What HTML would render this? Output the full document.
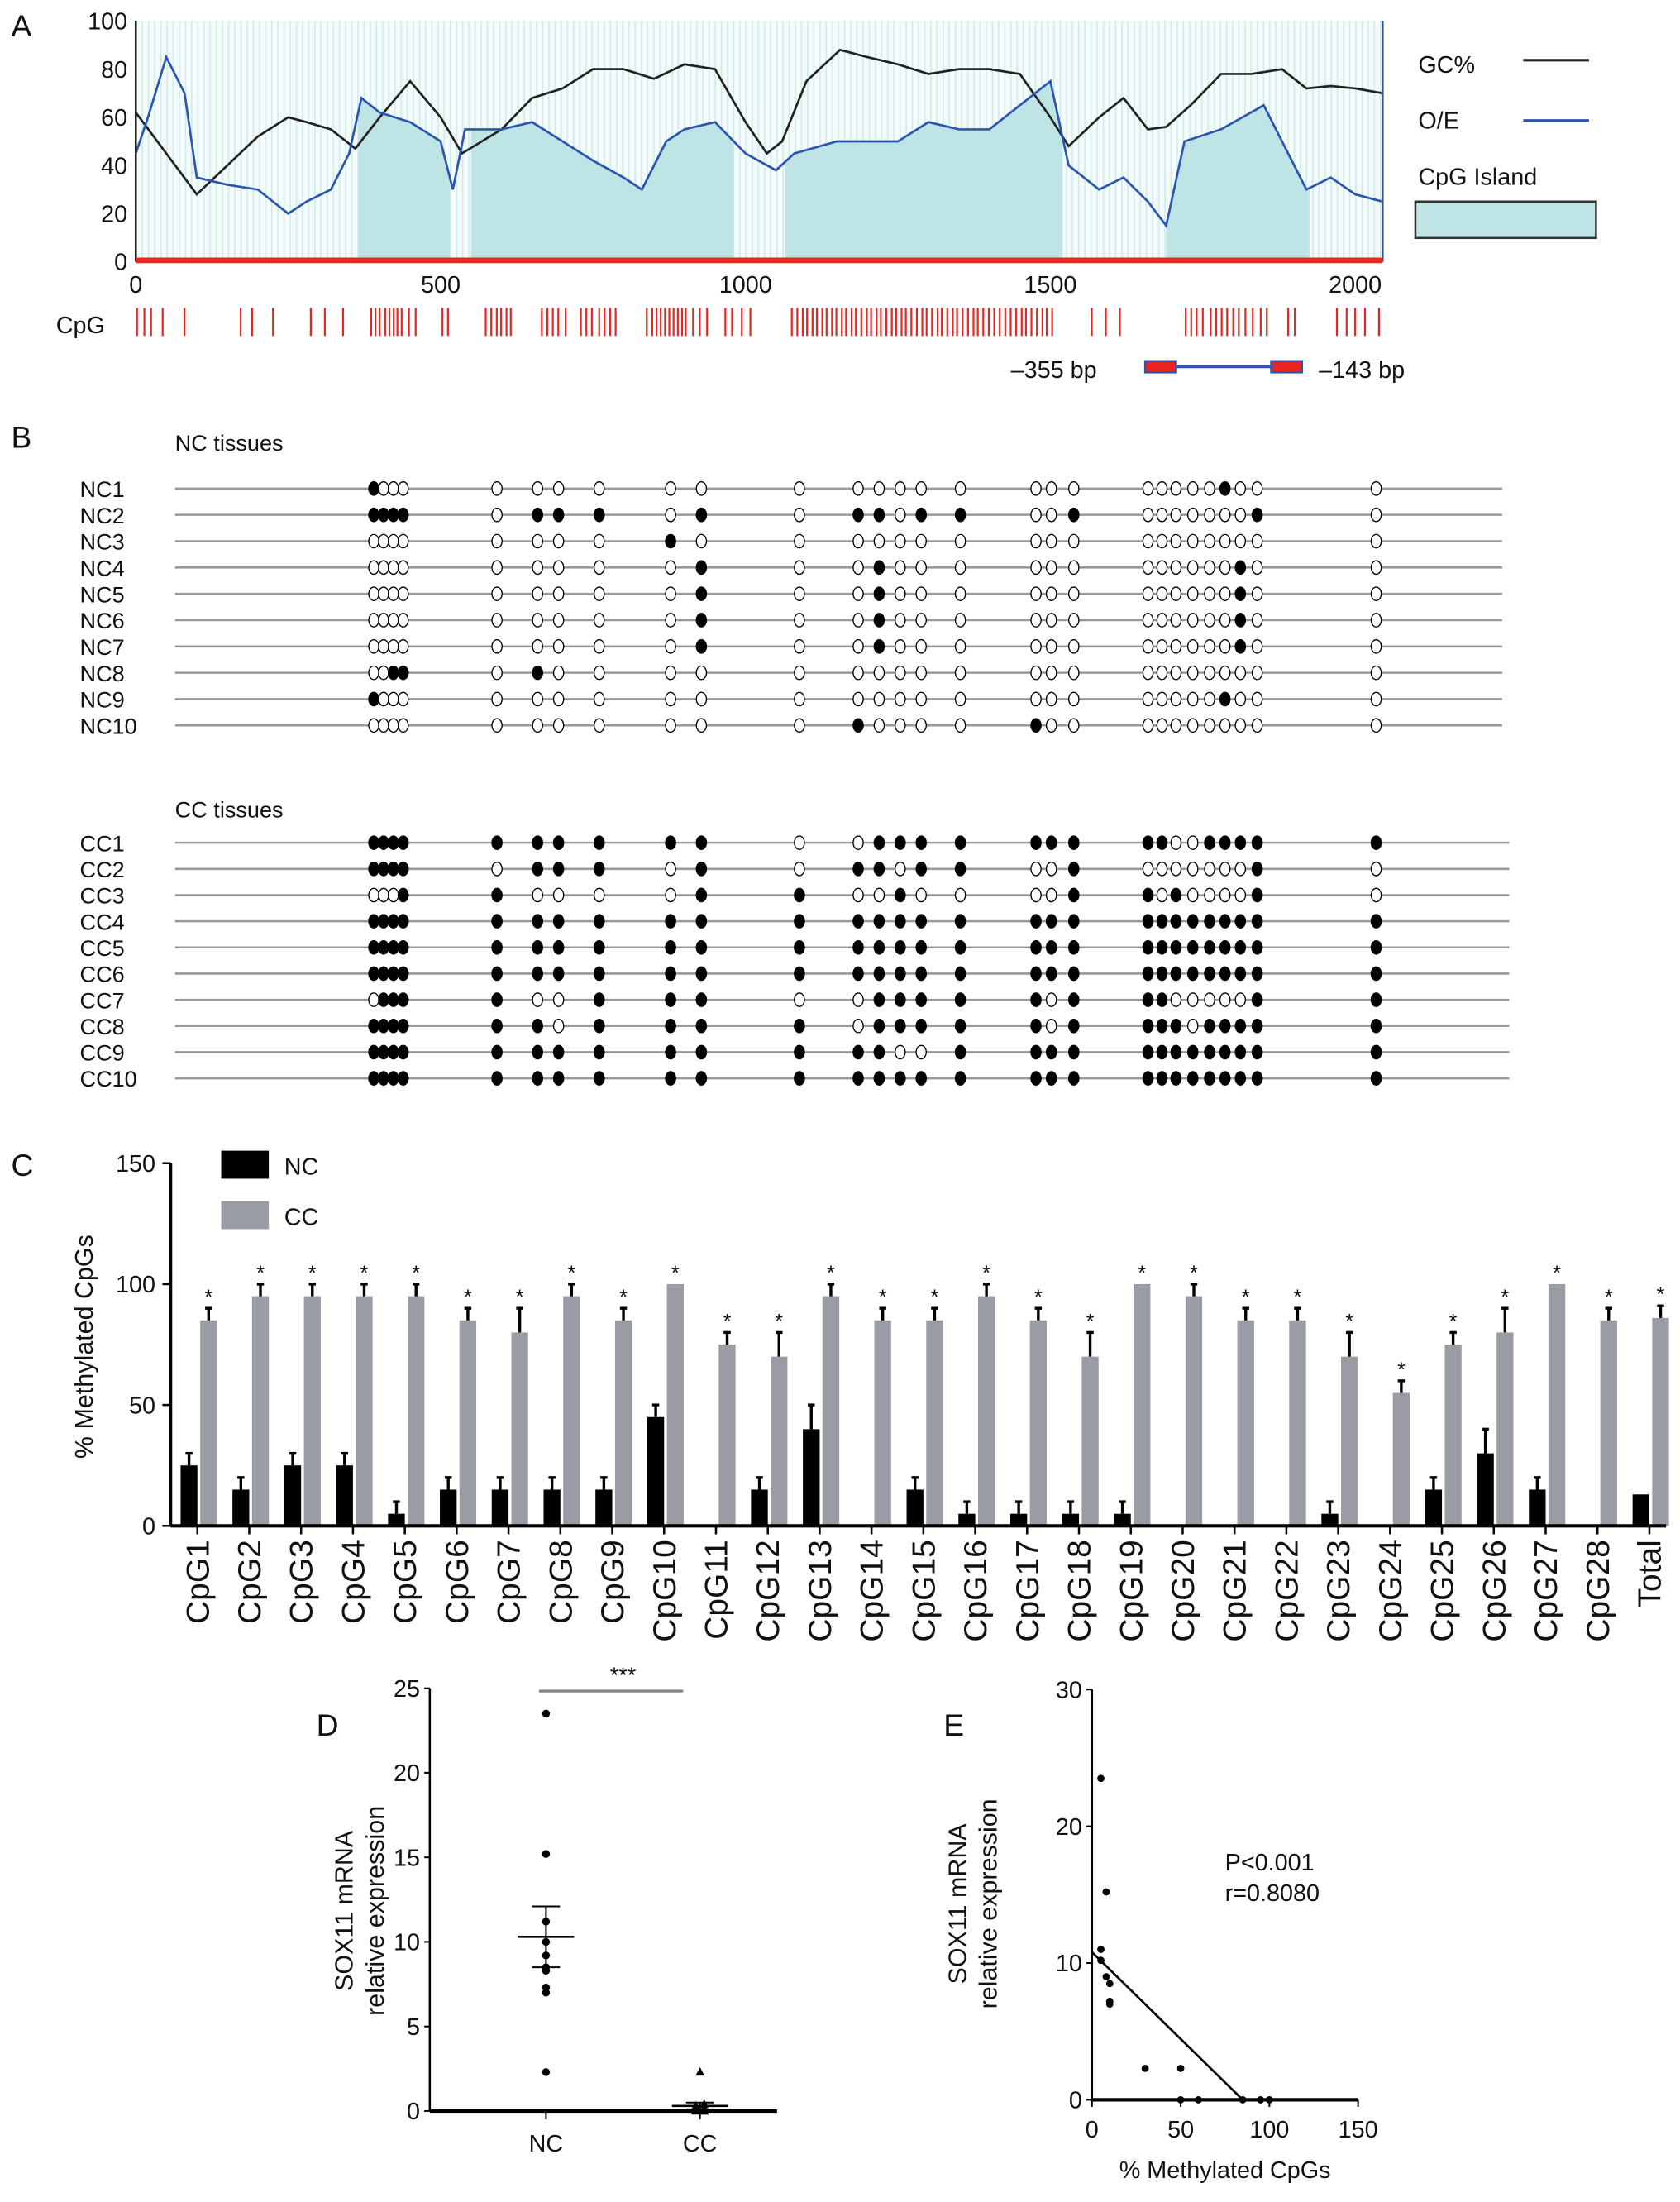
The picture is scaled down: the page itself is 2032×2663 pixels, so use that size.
<!DOCTYPE html>
<html><head><meta charset="utf-8"><style>
html,body{margin:0;padding:0;background:#fff}
svg{display:block}
text{font-family:"Liberation Sans",sans-serif;fill:#111}
</style></head><body>
<svg id="fig" xmlns="http://www.w3.org/2000/svg" width="2032" height="2663" viewBox="0 0 1200 1573" preserveAspectRatio="none">
<defs>
<pattern id="stripes" width="4.4" height="10" patternUnits="userSpaceOnUse">
<rect width="4.4" height="10" fill="#f4fbfa"/><rect width="1" height="10" fill="#cfeceb"/>
</pattern>
</defs>
<g id="pA"></g>
<g id="pB"></g>
<g id="pC"></g>
<g id="pD"></g>
<g id="pE"></g>
</svg>
<script>
// ---------- Panel A data ----------
const gcBp = [0,50,100,150,200,250,280,320,360,400,450,500,535,600,650,700,750,800,850,900,950,1000,1035,1060,1100,1155,1200,1250,1300,1350,1400,1450,1500,1530,1580,1620,1660,1690,1730,1780,1830,1880,1920,1960,2000,2045];
const gcVal = [62,45,28,40,52,60,58,55,47,60,75,60,45,55,68,72,80,80,76,82,80,58,45,50,75,88,85,82,78,80,80,78,60,48,60,68,55,56,65,78,78,80,72,73,72,70];
const oeBp = [0,20,50,80,100,150,200,250,280,320,350,370,400,450,500,520,540,600,650,700,750,800,830,870,900,950,1000,1050,1080,1150,1250,1300,1350,1400,1450,1500,1530,1580,1620,1660,1690,1720,1780,1850,1880,1920,1960,2000,2045];
const oeVal = [45,60,85,70,35,32,30,20,25,30,45,68,62,58,50,30,55,55,58,50,42,35,30,50,55,58,45,38,45,50,50,58,55,55,65,75,40,30,35,25,15,50,55,65,50,30,35,28,25];
const islandStart = [365,550,1065,1690];
const islandEnd = [515,980,1520,1925];
const cpgSites = [2,14,25,44,80,172,191,225,287,310,340,386,393,400,409,416,423,429,436,448,459,503,512,574,583,592,599,608,615,666,675,684,693,705,730,739,748,760,769,778,787,838,847,854,861,868,875,882,889,896,902,914,925,937,967,978,994,1008,1076,1085,1094,1101,1110,1117,1126,1133,1142,1149,1158,1165,1174,1181,1190,1199,1206,1215,1222,1231,1240,1247,1256,1263,1272,1281,1290,1297,1306,1315,1322,1331,1340,1347,1356,1365,1374,1381,1390,1399,1408,1417,1426,1435,1444,1453,1460,1469,1478,1487,1494,1503,1568,1591,1614,1722,1731,1740,1750,1763,1772,1781,1790,1800,1809,1820,1832,1845,1855,1890,1901,1970,1986,2000,2016,2039];
const aXTicks = [0,500,1000,1500,2000];
const aYTicks = [0,20,40,60,80,100];

// ---------- Panel B data ----------
const bSiteCount = 28;
const ncLabels = ["NC1","NC2","NC3","NC4","NC5","NC6","NC7","NC8","NC9","NC10"];
const ncPatterns = [
"1000"+"0"+"00"+"0"+"00"+"0"+"0000"+"0"+"000"+"00000100"+"0",
"1111"+"0"+"11"+"1"+"01"+"0"+"1101"+"1"+"001"+"00000001"+"0",
"0000"+"0"+"00"+"0"+"10"+"0"+"0000"+"0"+"000"+"00000000"+"0",
"0000"+"0"+"00"+"0"+"01"+"0"+"0100"+"0"+"000"+"00000010"+"0",
"0000"+"0"+"00"+"0"+"01"+"0"+"0100"+"0"+"000"+"00000010"+"0",
"0000"+"0"+"00"+"0"+"01"+"0"+"0100"+"0"+"000"+"00000010"+"0",
"0000"+"0"+"00"+"0"+"01"+"0"+"0100"+"0"+"000"+"00000010"+"0",
"0011"+"0"+"10"+"0"+"00"+"0"+"0000"+"0"+"000"+"00000000"+"0",
"1000"+"0"+"00"+"0"+"00"+"0"+"0000"+"0"+"000"+"00000100"+"0",
"0000"+"0"+"00"+"0"+"00"+"0"+"1000"+"0"+"100"+"00000000"+"0"];
const ccLabels = ["CC1","CC2","CC3","CC4","CC5","CC6","CC7","CC8","CC9","CC10"];
const ccPatterns = [
"1111"+"1"+"11"+"1"+"11"+"0"+"0111"+"1"+"111"+"11001111"+"1",
"1111"+"0"+"11"+"1"+"01"+"0"+"1101"+"1"+"001"+"00000001"+"0",
"0001"+"1"+"00"+"0"+"01"+"1"+"0010"+"0"+"001"+"10100001"+"0",
"1111"+"1"+"11"+"1"+"11"+"1"+"1111"+"1"+"111"+"11111111"+"1",
"1111"+"1"+"11"+"1"+"11"+"1"+"1111"+"1"+"111"+"11111111"+"1",
"1111"+"1"+"11"+"1"+"11"+"1"+"1111"+"1"+"111"+"11111111"+"1",
"0111"+"1"+"00"+"1"+"11"+"0"+"0111"+"1"+"101"+"11000001"+"1",
"1111"+"1"+"10"+"1"+"11"+"1"+"0111"+"1"+"101"+"11101111"+"1",
"1111"+"1"+"11"+"1"+"11"+"1"+"1100"+"1"+"111"+"11111111"+"1",
"1111"+"1"+"11"+"1"+"11"+"1"+"1111"+"1"+"111"+"11111111"+"1"];

// ---------- Panel C data ----------
const cCats = ["CpG1","CpG2","CpG3","CpG4","CpG5","CpG6","CpG7","CpG8","CpG9","CpG10","CpG11","CpG12","CpG13","CpG14","CpG15","CpG16","CpG17","CpG18","CpG19","CpG20","CpG21","CpG22","CpG23","CpG24","CpG25","CpG26","CpG27","CpG28","Total"];
const ncMeth = [25,15,25,25,5,15,15,15,15,45,0,15,40,0,15,5,5,5,5,0,0,0,5,0,15,30,15,0,13];
const ncErr  = [5,5,5,5,5,5,5,5,5,5,0,5,10,0,5,5,5,5,5,0,0,0,5,0,5,10,5,0,0];
const ccMeth = [85,95,95,95,95,85,80,95,85,100,75,70,95,85,85,95,85,70,100,95,85,85,70,55,75,80,100,85,86];
const ccErr  = [5,5,5,5,5,5,10,5,5,0,5,10,5,5,5,5,5,10,0,5,5,5,10,5,5,10,0,5,5];
const cYTicks = [0,50,100,150];

// ---------- Panel D data ----------
const dNC = [23.5,15.2,11.2,10.0,9.2,8.5,8.3,7.3,7.0,2.3];
const dCC = [2.3,0.4,0.3,0.2,0.1,0.1,0.05,0.0,0.0,0.0];
const dNCMean = 10.3, dNCSemHi = 12.1, dNCSemLo = 8.5;
const dCCMean = 0.3, dCCSemHi = 0.5, dCCSemLo = 0.1;
const dYTicks = [0,5,10,15,20,25];

// ---------- Panel E data ----------
const eX = [5,8,5,5,8,10,10,10,30,50,50,60,85,95,100];
const eY = [23.5,15.2,11,10.2,9,8.5,7.2,7,2.3,2.3,0,0,0,0,0];
const eFitStart = [0,10.8], eFitEnd = [85,0];
const eXTicks = [0,50,100,150];
const eYTicks = [0,10,20,30];

const NS="http://www.w3.org/2000/svg";
function mk(parent,tag,attrs,txt){const e=document.createElementNS(NS,tag);for(const k in attrs)e.setAttribute(k,attrs[k]);if(txt!==undefined)e.textContent=txt;parent.appendChild(e);return e;}

// ================= Panel A =================
(function(){
const g=document.getElementById('pA');
const ax=bp=>97+bp*0.4355, ay=v=>187-v*1.72;
let t;
t=mk(g,'text',{x:8,y:26,'font-size':22});t.textContent='A';


let bg=mk(g,'rect',{x:ax(0),y:ay(100),width:ax(2045)-ax(0),height:ay(0)-ay(100),fill:'url(#stripes)'});


for(let i=0;i<islandStart.length;i++){
  let pts=[[islandStart[i],0]];
  for(let j=0;j<oeBp.length;j++){
    if(oeBp[j]>islandStart[i]&&oeBp[j]<islandEnd[i]) pts.push([oeBp[j],oeVal[j]]);
  }
  const interp=b=>{for(let j=1;j<oeBp.length;j++){if(oeBp[j]>=b){const f=(b-oeBp[j-1])/(oeBp[j]-oeBp[j-1]);return oeVal[j-1]+f*(oeVal[j]-oeVal[j-1]);}}return oeVal[oeVal.length-1];};
  pts.splice(1,0,[islandStart[i],interp(islandStart[i])]);
  pts.push([islandEnd[i],interp(islandEnd[i])]);
  pts.push([islandEnd[i],0]);
  let p=mk(g,'polygon',{points:pts.map(q=>ax(q[0])+','+ay(q[1])).join(' '),fill:'#bfe4e6'});
  
  
}
let gl=mk(g,'polyline',{points:gcBp.map((b,i)=>ax(b)+','+ay(gcVal[i])).join(' '),fill:'none',stroke:'#222','stroke-width':1.6});


let ol=mk(g,'polyline',{points:oeBp.map((b,i)=>ax(b)+','+ay(oeVal[i])).join(' '),fill:'none',stroke:'#2c55b0','stroke-width':1.6});


let ya=mk(g,'line',{x1:ax(0),y1:ay(100),x2:ax(0),y2:ay(0),stroke:'#222','stroke-width':1.5});


let ra=mk(g,'line',{x1:ax(2045),y1:ay(100),x2:ax(2045),y2:ay(0),stroke:'#2c55b0','stroke-width':1.5});


let base=mk(g,'line',{x1:ax(0),y1:ay(0)-1,x2:ax(2045),y2:ay(0)-1,stroke:'#e8251f','stroke-width':4});


aYTicks.forEach(v=>{
  let tt=mk(g,'text',{x:ax(0)-6,y:ay(v)+6,'font-size':17,'text-anchor':'end'},String(v));
  
  
});
aXTicks.forEach(v=>{
  let tt=mk(g,'text',{x:ax(v),y:209,'font-size':17,'text-anchor':'middle'},String(v));
  
  
});
cpgSites.forEach(b=>{
  let l=mk(g,'line',{x1:ax(b),y1:220,x2:ax(b),y2:240,stroke:'#e8251f','stroke-width':1.3});
  
  
});
t=mk(g,'text',{x:40,y:238,'font-size':17},'CpG');


t=mk(g,'text',{x:1013,y:52,'font-size':17},'GC%');


let l1=mk(g,'line',{x1:1088,y1:43,x2:1135,y2:43,stroke:'#222','stroke-width':1.8});


t=mk(g,'text',{x:1013,y:92,'font-size':17},'O/E');


let l2=mk(g,'line',{x1:1088,y1:86,x2:1135,y2:86,stroke:'#2c55b0','stroke-width':1.8});


t=mk(g,'text',{x:1013,y:132,'font-size':17},'CpG Island');


let lb=mk(g,'rect',{x:1011,y:144,width:129,height:26,fill:'#bfe4e6',stroke:'#333','stroke-width':1.5});


t=mk(g,'text',{x:722,y:270,'font-size':17},'–355 bp');


t=mk(g,'text',{x:942,y:270,'font-size':17},'–143 bp');


let am=mk(g,'line',{x1:820,y1:262,x2:930,y2:262,stroke:'#2c55b0','stroke-width':2});


[[818,840],[908,930]].forEach(r=>{
  let rr=mk(g,'rect',{x:r[0],y:258,width:r[1]-r[0],height:8,fill:'#e8251f',stroke:'#2c55b0','stroke-width':1.5});
  
  
});
})();

// ================= Panel B =================
(function(){
const g=document.getElementById('pB');
const siteX=[267,274,281,288,355,384,399,428,479,501,571,613,628,643,658,686,740,751,767,820,830,840,852,864,875,886,898,983];
let t=mk(g,'text',{x:8,y:320,'font-size':22},'B');


function block(title,ty,labels,pats,y0,dy,x2){
  let tt=mk(g,'text',{x:125,y:ty,'font-size':16},title);
  
  
  labels.forEach((lab,r)=>{
    const y=y0+r*dy;
    let tl=mk(g,'text',{x:57,y:y+6,'font-size':16},lab);
    
    
    let ln=mk(g,'line',{x1:125,y1:y,x2:x2,y2:y,stroke:'#999','stroke-width':1.5});
    
    
    for(let s=0;s<bSiteCount;s++){
      const m=pats[r][s]==='1';
      let c=mk(g,'ellipse',{cx:siteX[s],cy:y,rx:3.6,ry:4.8,fill:m?'#000':'#fff',stroke:'#000','stroke-width':0.8});
      
      
    }
  });
}
block('NC tissues',322,ncLabels,ncPatterns,349,18.8,1073);
block('CC tissues',584,ccLabels,ccPatterns,602,18.7,1078);
})();

// ================= Panel C =================
(function(){
const g=document.getElementById('pC');
const cy=v=>1090-v*1.727, cx=i=>141+i*37.04;
let t=mk(g,'text',{x:8,y:840,'font-size':22},'C');


let yAx=mk(g,'line',{x1:122,y1:cy(150),x2:122,y2:cy(0),stroke:'#000','stroke-width':2});


cYTicks.forEach(v=>{
  let tk=mk(g,'line',{x1:116,y1:cy(v),x2:122,y2:cy(v),stroke:'#000','stroke-width':1.5});
  
  
  let tl=mk(g,'text',{x:111,y:cy(v)+6,'font-size':17,'text-anchor':'end'},String(v));
  
  
});
let yt=mk(g,'text',{x:0,y:0,'font-size':18,'text-anchor':'middle',transform:'translate(66,962) rotate(-90)'},'% Methylated CpGs');


cCats.forEach((c,i)=>{
  const x=cx(i);
  let b1=mk(g,'rect',{x:x-12,y:cy(ncMeth[i]),width:12,height:cy(0)-cy(ncMeth[i]),fill:'#000'});
  
  
  if(ncErr[i]>0){
    let e=mk(g,'line',{x1:x-6,y1:cy(ncMeth[i]),x2:x-6,y2:cy(ncMeth[i]+ncErr[i]),stroke:'#000','stroke-width':2});
    
    
    let ec=mk(g,'line',{x1:x-8.5,y1:cy(ncMeth[i]+ncErr[i]),x2:x-3.5,y2:cy(ncMeth[i]+ncErr[i]),stroke:'#000','stroke-width':2});
    
    
  }
  let b2=mk(g,'rect',{x:x+2,y:cy(ccMeth[i]),width:12,height:cy(0)-cy(ccMeth[i]),fill:'#9a9ca3'});
  
  
  const top=ccMeth[i]+ccErr[i];
  if(ccErr[i]>0){
    let e=mk(g,'line',{x1:x+8,y1:cy(ccMeth[i]),x2:x+8,y2:cy(top),stroke:'#000','stroke-width':2});
    
    
    let ec=mk(g,'line',{x1:x+5.5,y1:cy(top),x2:x+10.5,y2:cy(top),stroke:'#000','stroke-width':2});
    
    
  }
  let st=mk(g,'text',{x:x+8,y:cy(top)-3,'font-size':15,'text-anchor':'middle'},'*');
  
  
  let tk=mk(g,'line',{x1:x,y1:cy(0),x2:x,y2:cy(0)+6,stroke:'#000','stroke-width':1.5});
  
  
  let lab=mk(g,'text',{x:0,y:0,'font-size':23,'text-anchor':'end',transform:'translate('+(x+8)+','+(cy(0)+10)+') rotate(-90)'},c);
  
  
});
let xAx=mk(g,'line',{x1:122,y1:cy(0),x2:1190,y2:cy(0),stroke:'#000','stroke-width':2.5});


let s1=mk(g,'rect',{x:158,y:822,width:34,height:20,fill:'#000'});


let t1=mk(g,'text',{x:203,y:839,'font-size':17},'NC');


let s2=mk(g,'rect',{x:158,y:858,width:34,height:20,fill:'#9a9ca3'});


let t2=mk(g,'text',{x:203,y:875,'font-size':17},'CC');


})();

// ================= Panel D =================
(function(){
const g=document.getElementById('pD');
const dy=v=>1508-v*12.08;
const xNC=390,xCC=500;
let t=mk(g,'text',{x:226,y:1240,'font-size':22},'D');


let ya=mk(g,'line',{x1:307,y1:dy(25),x2:307,y2:dy(0),stroke:'#000','stroke-width':1.5});


dYTicks.forEach(v=>{
  let tk=mk(g,'line',{x1:303,y1:dy(v),x2:307,y2:dy(v),stroke:'#000','stroke-width':1.2});
  
  
  let tl=mk(g,'text',{x:300,y:dy(v)+6,'font-size':17,'text-anchor':'end'},String(v));
  
  
});
let xa=mk(g,'line',{x1:307,y1:dy(0),x2:555,y2:dy(0),stroke:'#000','stroke-width':2.5});


[[xNC,'NC'],[xCC,'CC']].forEach(p=>{
  let tk=mk(g,'line',{x1:p[0],y1:dy(0),x2:p[0],y2:dy(0)+6,stroke:'#000','stroke-width':1.2});
  
  
  let tl=mk(g,'text',{x:p[0],y:1537,'font-size':17,'text-anchor':'middle'},p[1]);
  
  
});
let y1=mk(g,'text',{x:0,y:0,'font-size':18,'text-anchor':'middle',transform:'translate(252,1365) rotate(-90)'},'SOX11 mRNA');


let y2=mk(g,'text',{x:0,y:0,'font-size':18,'text-anchor':'middle',transform:'translate(274,1365) rotate(-90)'},'relative expression');


dNC.forEach(v=>{
  let c=mk(g,'circle',{cx:xNC,cy:dy(v),r:2.8,fill:'#000'});
  
  
});
dCC.forEach((v,i)=>{
  const xx=xCC+(i%2?3:-3)*(i>0?1:0);
  let p=mk(g,'polygon',{points:(xx)+','+(dy(v)-3.5)+' '+(xx-3.2)+','+(dy(v)+2.5)+' '+(xx+3.2)+','+(dy(v)+2.5),fill:'#000'});
  
  
});
[[xNC,dNCMean,dNCSemHi,dNCSemLo],[xCC,dCCMean,dCCSemHi,dCCSemLo]].forEach(m=>{
  let ml=mk(g,'line',{x1:m[0]-20,y1:dy(m[1]),x2:m[0]+20,y2:dy(m[1]),stroke:'#000','stroke-width':1.6});
  
  
  let sl=mk(g,'line',{x1:m[0],y1:dy(m[2]),x2:m[0],y2:dy(m[3]),stroke:'#000','stroke-width':1.2});
  
  
  [m[2],m[3]].forEach(v=>{
    let c=mk(g,'line',{x1:m[0]-10,y1:dy(v),x2:m[0]+10,y2:dy(v),stroke:'#000','stroke-width':1.2});
    
    
  });
});
let sig=mk(g,'line',{x1:385,y1:1208,x2:488,y2:1208,stroke:'#888','stroke-width':2});


let st=mk(g,'text',{x:445,y:1202,'font-size':16,'text-anchor':'middle'},'***');


})();

// ================= Panel E =================
(function(){
const g=document.getElementById('pE');
const ex=v=>780+v*1.267, ey=v=>1500-v*9.77;
let t=mk(g,'text',{x:674,y:1240,'font-size':22},'E');


let ya=mk(g,'line',{x1:ex(0),y1:ey(30),x2:ex(0),y2:ey(0),stroke:'#000','stroke-width':1.5});


let xa=mk(g,'line',{x1:ex(0),y1:ey(0),x2:ex(150),y2:ey(0),stroke:'#000','stroke-width':2.5});


eYTicks.forEach(v=>{
  let tk=mk(g,'line',{x1:ex(0)-4,y1:ey(v),x2:ex(0),y2:ey(v),stroke:'#000','stroke-width':1.2});
  
  
  let tl=mk(g,'text',{x:ex(0)-7,y:ey(v)+6,'font-size':17,'text-anchor':'end'},String(v));
  
  
});
eXTicks.forEach(v=>{
  let tk=mk(g,'line',{x1:ex(v),y1:ey(0),x2:ex(v),y2:ey(0)+5,stroke:'#000','stroke-width':1.2});
  
  
  let tl=mk(g,'text',{x:ex(v),y:1527,'font-size':17,'text-anchor':'middle'},String(v));
  
  
});
let y1=mk(g,'text',{x:0,y:0,'font-size':18,'text-anchor':'middle',transform:'translate(690,1360) rotate(-90)'},'SOX11 mRNA');


let y2=mk(g,'text',{x:0,y:0,'font-size':18,'text-anchor':'middle',transform:'translate(712,1360) rotate(-90)'},'relative expression');


let xt=mk(g,'text',{x:875,y:1556,'font-size':17,'text-anchor':'middle'},'% Methylated CpGs');


eX.forEach((v,i)=>{
  let c=mk(g,'circle',{cx:ex(v),cy:ey(eY[i]),r:2.6,fill:'#000'});
  
  
});
let fit=mk(g,'line',{x1:ex(eFitStart[0]),y1:ey(eFitStart[1]),x2:ex(eFitEnd[0]),y2:ey(eFitEnd[1]),stroke:'#000','stroke-width':1.6});


let p=mk(g,'text',{x:875,y:1336,'font-size':17},'P<0.001');


let r=mk(g,'text',{x:875,y:1358,'font-size':17},'r=0.8080');


})();
</script>
</body></html>
